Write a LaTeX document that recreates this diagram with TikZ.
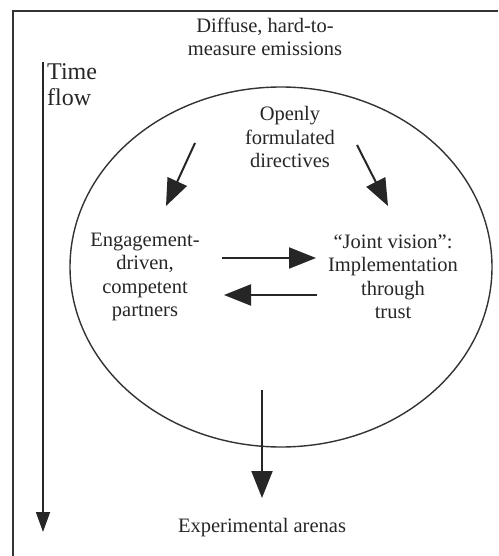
\documentclass[tikz,border=0pt]{standalone}
\usepackage{fontspec}
\setmainfont{Liberation Serif}
\usetikzlibrary{arrows.meta}

\tikzset{
  label text/.style={align=center, inner sep=0pt, text=black!85,
    font=\fontsize{20.5pt}{23.5pt}\selectfont},
  flow arrow/.style={line width=2pt, draw=black!85,
    -{Triangle[length=27pt,width=21pt]}},
  frame line/.style={line width=1.8pt, draw=black!80},
}

\begin{document}
\begin{tikzpicture}[x=1pt,y=-1pt]
  \useasboundingbox (0,0) rectangle (498,556);
  \fill[white] (0,0) rectangle (498,556);

  % open frame: top and left edges only
  \draw[frame line] (13,556) -- (13,11) -- (498,11);

  % the arena
  \draw[line width=1.4pt, draw=black!80] (281,267) ellipse [x radius=211pt, y radius=180pt];

  % text blocks
  \node[label text] (diffuse) at (265,37) {Diffuse, hard-to-\\measure emissions};
  \node[label text, align=left, anchor=west,
        font=\fontsize{24pt}{26pt}\selectfont] (time) at (47,85) {Time\\flow};
  \node[label text] (directives) at (290,137) {Openly\\formulated\\directives};
  \node[label text] (partners) at (145,277) {Engagement-\\driven,\\competent\\partners};
  \node[label text] (vision) at (393,277) {``Joint vision'':\\Implementation\\through\\trust};
  \node[label text] (arenas) at (262,528) {Experimental arenas};

  % arrow end points
  \coordinate (d1s) at (195,143);
  \coordinate (d1e) at (166,206);
  \coordinate (d2s) at (357,145);
  \coordinate (d2e) at (388,206);
  \coordinate (p2v) at (222,258);
  \coordinate (v2p) at (316,258);
  \coordinate (v2q) at (317,295);
  \coordinate (p2q) at (224,295);
  \coordinate (out) at (262,390);
  \coordinate (outE) at (262,498);
  \coordinate (ts) at (43,62);
  \coordinate (te) at (43,532);

  % connectors
  \draw[flow arrow] (d1s) -- (d1e);
  \draw[flow arrow] (d2s) -- (d2e);
  \draw[flow arrow] (p2v) -- (v2p);
  \draw[flow arrow] (v2q) -- (p2q);
  \draw[flow arrow] (out) -- (outE);
  \draw[line width=1.6pt, draw=black!85,
        -{Triangle[length=20pt,width=14pt]}] (ts) -- (te);
\end{tikzpicture}
\end{document}
